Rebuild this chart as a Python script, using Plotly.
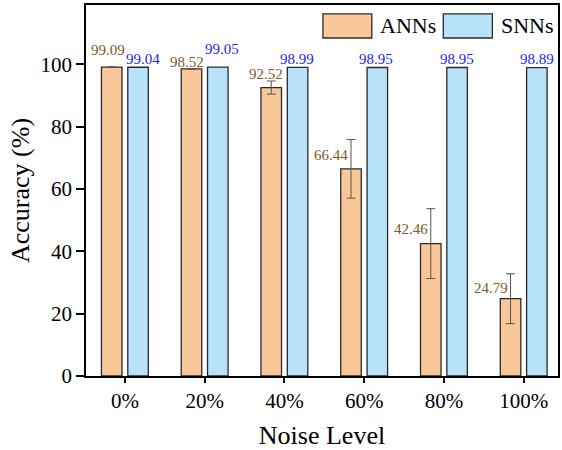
import plotly.graph_objects as go

categories = ["0%", "20%", "40%", "60%", "80%", "100%"]
ann_values = [99.09, 98.52, 92.52, 66.44, 42.46, 24.79]
snn_values = [99.04, 99.05, 98.99, 98.95, 98.95, 98.89]
ann_errors = [None, None, 2.1, 9.4, 11.2, 8.0]
y_ticks = [0, 20, 40, 60, 80, 100]

# label offsets in pixels (style)
ann_xshift = [-17, -18, -18, -33, -33, -33]
ann_yshift = [17, 7, 14, 14, 15, 11]
snn_xshift = [18, 17, 13, 12, 13, 13]
snn_yshift = [8, 18, 8, 9, 9, 9]

ANN_FILL = "#FAC898"
SNN_FILL = "#B8E2F8"
EDGE = "#2a2a2a"
FONT = "Liberation Serif"

fig = go.Figure()
fig.add_trace(go.Bar(
    x=categories, y=ann_values, name="ANNs",
    marker=dict(color=ANN_FILL, line=dict(color=EDGE, width=1.3)),
    error_y=dict(type="data", array=ann_errors, visible=True,
                 color="#555555", thickness=1, width=4.5),
))
fig.add_trace(go.Bar(
    x=categories, y=snn_values, name="SNNs",
    marker=dict(color=SNN_FILL, line=dict(color=EDGE, width=1.3)),
))

annotations = []
for c, v, dx, dy in zip(categories, ann_values, ann_xshift, ann_yshift):
    annotations.append(dict(x=c, y=v, text=f"{v:.2f}", showarrow=False,
                            xshift=dx, yshift=dy, yanchor="middle",
                            font=dict(family=FONT, size=15, color="#7A5C1E")))
for c, v, dx, dy in zip(categories, snn_values, snn_xshift, snn_yshift):
    annotations.append(dict(x=c, y=v, text=f"{v:.2f}", showarrow=False,
                            xshift=dx, yshift=dy, yanchor="middle",
                            font=dict(family=FONT, size=15, color="#1F1FF5")))

# custom legend (paper coords)
legend_items = [("ANNs", ANN_FILL, 0.502, 0.6055, 0.618),
                ("SNNs", SNN_FILL, 0.757, 0.861, 0.8755)]
shapes = []
for name, col, x0, x1, tx in legend_items:
    shapes.append(dict(type="rect", xref="paper", yref="paper", x0=x0, x1=x1,
                       y0=0.911, y1=0.976, fillcolor=col,
                       line=dict(color=EDGE, width=1.3)))
    annotations.append(dict(xref="paper", yref="paper", x=tx, y=0.944,
                            xanchor="left", yanchor="middle", text=name,
                            showarrow=False,
                            font=dict(family=FONT, size=22, color="black")))

fig.update_layout(
    width=562, height=450,
    margin=dict(l=86, r=2, t=5, b=74),
    paper_bgcolor="white", plot_bgcolor="white",
    barmode="group", bargap=0.34, bargroupgap=0.22,
    showlegend=False,
    annotations=annotations, shapes=shapes,
    font=dict(family=FONT, color="black"),
)
fig.update_xaxes(
    type="category", range=[-0.4875, 5.43],
    showline=True, linecolor="black", linewidth=1.6, mirror=True,
    ticks="outside", ticklen=5, tickwidth=1.5, tickcolor="black",
    tickfont=dict(family=FONT, size=21),
    title=dict(text="Noise Level", font=dict(family=FONT, size=26), standoff=16),
    showgrid=False,
)
fig.update_yaxes(
    range=[0, 119], tickvals=y_ticks,
    showline=True, linecolor="black", linewidth=1.6, mirror=True,
    ticks="outside", ticklen=8, tickwidth=1.5, tickcolor="black",
    tickfont=dict(family=FONT, size=21),
    title=dict(text="Accuracy (%)", font=dict(family=FONT, size=26), standoff=3),
    showgrid=False, zeroline=False,
)

fig.write_html("out.html")
